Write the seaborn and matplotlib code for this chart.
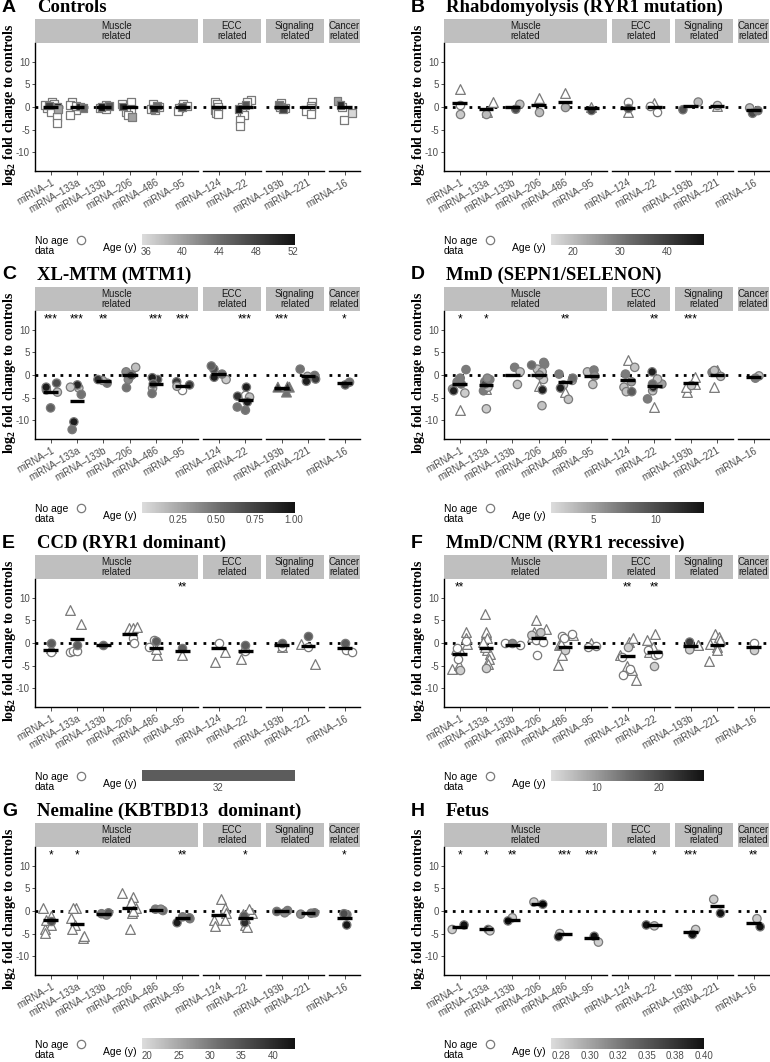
import numpy as np
import pandas as pd
import matplotlib
matplotlib.use("Agg")
import matplotlib.pyplot as plt
import seaborn as sns
from matplotlib.colors import LinearSegmentedColormap, ListedColormap, Normalize
from matplotlib.cm import ScalarMappable
from matplotlib.lines import Line2D

# ---------------- data ----------------
MIRNAS = ["miRNA-1", "miRNA-133a", "miRNA-133b", "miRNA-206", "miRNA-486", "miRNA-95",
          "miRNA-124", "miRNA-22", "miRNA-193b", "miRNA-221", "miRNA-16"]
TICK_LABELS = ["miRNA\u20131", "miRNA\u2013133a", "miRNA\u2013133b", "miRNA\u2013206", "miRNA\u2013486",
               "miRNA\u201395", "miRNA\u2013124", "miRNA\u201322", "miRNA\u2013193b", "miRNA\u2013221",
               "miRNA\u201316"]
GROUPS = ["Muscle\nrelated", "ECC\nrelated", "Signaling\nrelated", "Cancer\nrelated"]
GROUP_SIZES = [6, 2, 2, 1]
Y_TICKS = [-10, -5, 0, 5, 10]
Y_TICK_LABELS = ["-10", "-5", "0", "5", "10"]

# points: (log2 fold change, age or None, marker)
A_points = {
    "miRNA-1": [(1.0, None, "s"), (0.6, None, "s"), (0.3, 48, "s"), (0.0, 52, "s"), (-0.2, None, "s"),
                (-0.5, 40, "s"), (-1.2, None, "s"), (-2.2, None, "s"), (-3.5, None, "s"), (0.4, None, "s")],
    "miRNA-133a": [(1.0, None, "s"), (0.5, None, "s"), (0.1, 50, "s"), (-0.2, 44, "s"), (-0.6, None, "s"),
                   (-1.8, None, "s"), (0.2, None, "s")],
    "miRNA-133b": [(0.5, None, "s"), (0.2, 46, "s"), (0.0, 52, "s"), (-0.3, None, "s"), (-0.4, None, "s")],
    "miRNA-206": [(1.2, None, "s"), (0.6, None, "s"), (0.1, 50, "s"), (-0.4, None, "s"), (-1.0, None, "s"),
                  (-1.8, None, "s"), (-2.2, 40, "s")],
    "miRNA-486": [(0.6, None, "s"), (0.3, 44, "s"), (0.0, None, "s"), (-0.3, 50, "s"), (-0.7, None, "s"),
                  (-0.5, None, "s")],
    "miRNA-95": [(0.6, None, "s"), (0.3, None, "s"), (0.0, 48, "s"), (-0.3, None, "s"), (-0.8, None, "s")],
    "miRNA-124": [(1.2, None, "s"), (0.6, None, "s"), (0.0, None, "s"), (-0.7, None, "s"), (-1.4, None, "s"),
                  (-1.5, None, "s")],
    "miRNA-22": [(1.6, None, "s"), (1.2, None, "s"), (0.5, 46, "s"), (0.0, None, "s"), (-0.5, 52, "s"),
                 (-1.2, None, "s"), (-1.7, None, "s"), (-2.8, None, "s"), (-4.3, None, "s")],
    "miRNA-193b": [(0.8, None, "s"), (0.4, 44, "s"), (0.0, None, "s"), (-0.3, None, "s"), (-0.5, 48, "s")],
    "miRNA-221": [(1.0, None, "s"), (0.2, None, "s"), (-0.2, None, "s"), (-0.8, None, "s"), (-1.6, None, "s")],
    "miRNA-16": [(1.3, 40, "s"), (0.5, 50, "s"), (0.0, None, "s"), (-1.3, 36, "s"), (-2.8, None, "s")],
}
A_median = [0.0, 0.0, 0.0, 0.0, 0.0, -0.1, -0.1, 0.0, 0.0, -0.1, 0.0]
A_stars = [""] * 11

B_points = {
    "miRNA-1": [(3.9, None, "^"), (-1.6, 18, "o"), (0.5, None, "o")],
    "miRNA-133a": [(1.1, None, "^"), (-1.0, None, "^"), (-1.5, 20, "o")],
    "miRNA-133b": [(0.6, 20, "o"), (-0.5, 38, "o")],
    "miRNA-206": [(-1.1, 20, "o"), (1.9, None, "^")],
    "miRNA-486": [(3.0, None, "^"), (-0.1, 22, "o")],
    "miRNA-95": [(0.1, None, "^"), (-0.6, 40, "o")],
    "miRNA-124": [(-1.0, None, "^"), (1.0, None, "o"), (-0.2, 38, "o")],
    "miRNA-22": [(0.9, None, "^"), (-1.1, None, "o"), (0.2, None, "o")],
    "miRNA-193b": [(1.1, 20, "o"), (-0.6, 36, "o")],
    "miRNA-221": [(0.5, 18, "o"), (0.2, None, "^")],
    "miRNA-16": [(-0.2, 20, "o"), (-1.4, 38, "o"), (-0.8, 30, "o")],
}
B_median = [0.9, -0.4, 0.0, 0.5, 1.1, -0.2, -0.15, -0.1, 0.2, 0.15, -0.7]
B_stars = [""] * 11

C_points = {
    "miRNA-1": [(-3.3, 0.1, "o"), (-1.8, 0.7, "o"), (-2.7, 0.95, "o"), (-3.8, 0.15, "o"), (-7.3, 0.6, "o")],
    "miRNA-133a": [(-2.9, 0.1, "o"), (-4.3, 0.5, "o"), (-2.2, 0.9, "o"), (-10.4, 0.95, "o"), (-12.1, 0.5, "o"),
                   (-2.7, 0.1, "o")],
    "miRNA-133b": [(-1.8, 0.5, "o"), (-1.2, 0.2, "o"), (-1.0, 0.85, "o")],
    "miRNA-206": [(1.7, 0.15, "o"), (0.7, 0.4, "o"), (-1.0, 0.4, "o"), (-2.8, 0.5, "o"), (0.0, 0.95, "o"),
                  (-0.1, 0.8, "o")],
    "miRNA-486": [(-1.0, 0.8, "o"), (-0.6, 0.95, "o"), (-2.9, 0.1, "o"), (-4.1, 0.5, "o"), (-2.0, 0.7, "o")],
    "miRNA-95": [(-1.5, 0.8, "o"), (-2.5, 0.15, "o"), (-3.3, None, "o"), (-2.2, 0.8, "o")],
    "miRNA-124": [(-1.0, 0.1, "o"), (1.3, 0.7, "o"), (2.0, 0.6, "o"), (-0.5, 0.95, "o"), (0.2, 0.5, "o")],
    "miRNA-22": [(-4.9, 0.15, "o"), (-4.7, 0.85, "o"), (-2.7, 0.95, "o"), (-7.1, 0.5, "o"), (-7.8, 0.5, "o"),
                 (-4.4, None, "o"), (-6.0, 0.95, "o")],
    "miRNA-193b": [(-2.7, 0.6, "^"), (-2.7, 0.7, "^"), (-3.8, 0.5, "^"), (-2.6, 0.8, "^")],
    "miRNA-221": [(-0.1, 0.5, "o"), (1.3, 0.5, "o"), (-0.3, 0.2, "o"), (-0.9, 0.8, "o"), (-1.4, 0.95, "o")],
    "miRNA-16": [(-1.6, 0.5, "o"), (-2.2, 0.8, "o")],
}
C_median = [-3.7, -5.8, -1.4, 0.0, -2.0, -2.5, 0.2, -5.6, -2.8, -0.2, -1.8]
C_stars = ["***", "***", "**", "", "***", "***", "", "***", "***", "", "*"]

D_points = {
    "miRNA-1": [(1.2, 7, "o"), (-1.5, 7, "o"), (-4.0, 2.5, "o"), (-3.1, 5, "o"), (-3.5, 13, "o"), (-2.0, 8, "o"),
                (-0.7, 7, "o"), (-7.7, None, "^")],
    "miRNA-133a": [(-1.5, 7, "o"), (-3.5, 7, "o"), (-2.7, 3, "o"), (-2.0, 10, "o"), (-1.0, 7, "o"),
                   (-7.5, 2.5, "o"), (-3.1, None, "^"), (-0.7, 6, "o")],
    "miRNA-133b": [(1.7, 7, "o"), (0.7, 3, "o"), (-2.1, 3, "o")],
    "miRNA-206": [(1.3, 3, "o"), (2.4, 7, "o"), (2.8, 7, "o"), (2.2, 8, "o"), (0.7, 3, "o"), (-1.0, 2.5, "o"),
                  (-3.3, 13, "o"), (-6.8, 3, "o"), (-2.4, None, "^"), (0.0, 5, "o")],
    "miRNA-486": [(0.2, 7, "o"), (-1.2, 3, "o"), (-2.2, 3, "o"), (-2.9, 13, "o"), (-5.4, 3, "o"),
                  (-3.8, None, "^"), (-0.7, 8, "o")],
    "miRNA-95": [(0.7, 3, "o"), (1.1, 7, "o"), (-2.1, 3, "o"), (-0.2, 6, "o")],
    "miRNA-124": [(3.4, None, "^"), (1.7, 3, "o"), (0.2, 7, "o"), (-2.7, 3, "o"), (-3.7, 3, "o"), (-3.7, 9, "o"),
                  (-1.5, 5, "o")],
    "miRNA-22": [(-3.5, 3, "o"), (-2.0, 5, "o"), (-2.7, 13, "o"), (0.7, 13, "o"), (-0.9, 3, "o"), (-5.3, 7, "o"),
                 (-7.1, None, "^"), (-2.0, 8, "o")],
    "miRNA-193b": [(-2.0, None, "^"), (-0.5, None, "^"), (-3.8, None, "^"), (-2.7, None, "^"), (-2.3, 3, "o")],
    "miRNA-221": [(-0.3, 3, "o"), (0.6, 7, "o"), (1.0, 3, "o"), (1.0, None, "^"), (-2.7, None, "^")],
    "miRNA-16": [(-0.2, 3, "o"), (-0.7, 7, "o")],
}
D_median = [-2.0, -2.2, 0.1, 0.1, -1.5, -0.2, -1.0, -2.4, -1.8, -0.1, -0.5]
D_stars = ["*", "*", "", "", "**", "", "", "**", "***", "", ""]

E_points = {
    "miRNA-1": [(-1.1, None, "^"), (-2.1, None, "o"), (0.0, 32, "o")],
    "miRNA-133a": [(7.3, None, "^"), (4.3, None, "^"), (-0.5, 32, "o"), (-2.0, None, "o"), (-1.7, None, "o"),
                   (-1.8, None, "o")],
    "miRNA-133b": [(-0.5, 32, "o")],
    "miRNA-206": [(3.3, None, "^"), (3.4, None, "^"), (3.5, None, "^"), (1.0, None, "o"), (-0.1, None, "o")],
    "miRNA-486": [(0.7, None, "o"), (-0.9, None, "o"), (0.4, 32, "o"), (-2.6, None, "^"), (-1.3, None, "^")],
    "miRNA-95": [(-2.7, None, "^"), (-1.1, 32, "o")],
    "miRNA-124": [(-4.2, None, "^"), (-2.0, None, "^"), (0.0, None, "o")],
    "miRNA-22": [(-0.4, 32, "o"), (-3.5, None, "^"), (-1.8, None, "o"), (-1.2, None, "^")],
    "miRNA-193b": [(0.1, 32, "o"), (-0.9, None, "o"), (-0.9, None, "^")],
    "miRNA-221": [(1.6, 32, "o"), (-0.9, None, "o"), (-4.7, None, "^"), (-0.2, None, "^")],
    "miRNA-16": [(0.0, 32, "o"), (-1.6, None, "o"), (-2.1, None, "o")],
}
E_median = [-1.5, 0.8, -0.4, 2.0, -1.1, -1.8, -1.0, -1.7, -0.5, -0.7, -1.2]
E_stars = ["", "", "", "", "", "**", "", "", "", "", ""]

F_points = {
    "miRNA-1": [(2.4, None, "^"), (-0.2, None, "^"), (1.0, None, "^"), (-1.6, None, "^"), (-1.3, None, "^"),
                (-5.7, None, "^"), (-4.9, None, "^"), (-3.5, None, "o"), (-6.0, 4, "o"), (0.4, None, "o"),
                (-1.0, None, "o")],
    "miRNA-133a": [(6.5, None, "^"), (2.0, None, "^"), (2.4, None, "^"), (1.0, None, "^"), (-1.6, None, "^"),
                   (-2.4, None, "^"), (-3.5, None, "^"), (-4.6, None, "^"), (-0.9, None, "^"), (0.2, None, "^"),
                   (-5.6, 4, "o")],
    "miRNA-133b": [(-0.5, None, "o"), (-0.1, 12, "o"), (0.0, None, "o")],
    "miRNA-206": [(3.2, None, "^"), (5.0, None, "^"), (2.4, None, "^"), (1.3, None, "^"), (2.3, 5, "o"),
                  (1.7, 4, "o"), (0.6, None, "o"), (-2.7, None, "o"), (0.2, None, "o")],
    "miRNA-486": [(1.9, None, "o"), (1.6, None, "o"), (1.0, None, "o"), (-1.6, 4, "o"), (1.7, None, "^"),
                  (-0.5, None, "^"), (-2.7, None, "^"), (-4.8, None, "^"), (-0.2, None, "^")],
    "miRNA-95": [(0.1, None, "^"), (-0.9, None, "o"), (-0.7, None, "o")],
    "miRNA-124": [(0.2, None, "^"), (1.1, None, "^"), (-2.7, None, "^"), (-5.0, None, "^"), (-6.0, None, "^"),
                  (-8.2, None, "^"), (-0.9, 4, "o"), (-5.7, None, "o"), (-7.2, None, "o"), (-3.1, None, "o")],
    "miRNA-22": [(2.0, None, "^"), (0.6, None, "^"), (-0.9, None, "^"), (-2.0, None, "^"), (-5.0, 4, "o"),
                 (-2.7, None, "o"), (-1.6, None, "o"), (-2.4, None, "o")],
    "miRNA-193b": [(-1.5, 4, "o"), (0.2, 22, "o"), (-0.4, None, "^"), (-0.5, None, "^")],
    "miRNA-221": [(2.0, None, "^"), (1.3, None, "^"), (0.6, None, "^"), (-0.9, None, "^"), (-1.6, None, "^"),
                  (-4.1, None, "^"), (-0.2, None, "^")],
    "miRNA-16": [(-1.5, 4, "o"), (-0.1, None, "o")],
}
F_median = [-2.4, -1.1, -0.4, 1.1, -0.8, -0.8, -2.9, -2.0, -0.7, -0.5, -0.8]
F_stars = ["**", "", "", "", "", "", "**", "**", "", "", ""]

G_points = {
    "miRNA-1": [(0.7, None, "^"), (-1.1, None, "^"), (-3.0, None, "^"), (-4.1, None, "^"), (-4.8, None, "^"),
                (-2.1, None, "^"), (-2.2, 35, "o")],
    "miRNA-133a": [(0.7, None, "^"), (0.7, None, "^"), (-1.5, None, "^"), (-3.0, None, "^"), (-4.1, None, "^"),
                   (-5.9, None, "^"), (-5.6, None, "^")],
    "miRNA-133b": [(-0.6, 30, "o"), (-0.9, 28, "o"), (-0.4, 34, "o")],
    "miRNA-206": [(4.1, None, "^"), (3.1, None, "^"), (2.1, None, "^"), (0.7, None, "^"), (-0.4, None, "^"),
                  (-4.1, None, "^"), (0.0, None, "^")],
    "miRNA-486": [(0.4, 30, "o"), (0.1, 32, "o"), (0.4, 28, "o")],
    "miRNA-95": [(-1.7, 34, "o"), (-2.6, 42, "o"), (-1.3, 30, "o"), (-1.5, 32, "o")],
    "miRNA-124": [(2.6, None, "^"), (0.7, None, "^"), (-0.4, None, "^"), (-2.1, None, "^"), (-3.3, None, "^"),
                  (-1.9, None, "^")],
    "miRNA-22": [(-0.4, None, "^"), (0.5, None, "^"), (-0.7, None, "^"), (-3.0, None, "^"), (-3.5, None, "^"),
                 (-1.5, None, "^"), (-2.6, 40, "o"), (-1.1, 34, "o")],
    "miRNA-193b": [(0.1, 30, "o"), (-0.1, 32, "o"), (-0.4, 28, "o")],
    "miRNA-221": [(-0.5, 30, "o"), (-0.4, 32, "o"), (-0.7, 28, "o")],
    "miRNA-16": [(-0.7, None, "o"), (-0.8, 32, "o"), (-3.1, 43, "o"), (-0.6, 36, "o")],
}
G_median = [-2.1, -2.8, -0.6, 0.6, 0.3, -1.5, -0.8, -1.6, 0.0, -0.5, -1.5]
G_stars = ["*", "*", "", "", "", "**", "", "*", "", "", "*"]

H_points = {
    "miRNA-1": [(-3.1, 0.40, "o"), (-4.1, 0.275, "o")],
    "miRNA-133a": [(-4.1, 0.40, "o"), (-4.4, 0.275, "o")],
    "miRNA-133b": [(-1.5, 0.275, "o"), (-2.2, 0.40, "o")],
    "miRNA-206": [(2.0, 0.275, "o"), (1.5, 0.40, "o")],
    "miRNA-486": [(-5.0, 0.275, "o"), (-5.7, 0.40, "o")],
    "miRNA-95": [(-5.6, 0.40, "o"), (-6.9, 0.275, "o")],
    "miRNA-124": [],
    "miRNA-22": [(-3.1, 0.40, "o"), (-3.3, 0.275, "o")],
    "miRNA-193b": [(-4.1, 0.275, "o"), (-5.2, 0.40, "o")],
    "miRNA-221": [(-0.5, 0.40, "o"), (2.6, 0.275, "o")],
    "miRNA-16": [(-3.5, 0.40, "o"), (-1.7, 0.275, "o")],
}
H_median = [-3.5, -4.1, -1.9, 1.6, -5.2, -6.1, np.nan, -3.2, -4.6, 1.1, -2.7]
H_stars = ["*", "*", "**", "", "***", "***", "", "*", "***", "", "**"]

# age colour-bar ranges and ticks
A_age = (35.6, 52.2, [36, 40, 44, 48, 52], ["36", "40", "44", "48", "52"])
B_age = (15.3, 47.7, [20, 30, 40], ["20", "30", "40"])
C_age = (0.02, 1.01, [0.25, 0.5, 0.75, 1.0], ["0.25", "0.50", "0.75", "1.00"])
D_age = (1.6, 13.9, [5, 10], ["5", "10"])
E_age = (31.0, 33.0, [32], ["32"])
F_age = (2.5, 27.4, [10, 20], ["10", "20"])
G_age = (19.2, 43.5, [20, 25, 30, 35, 40], ["20", "25", "30", "35", "40"])
H_age = (0.266, 0.40, [0.275, 0.3, 0.325, 0.35, 0.375, 0.4], ["0.28", "0.30", "0.32", "0.35", "0.38", "0.40"])

# ---------------- style ----------------
sns.set_theme(style="white")
plt.rcParams["font.family"] = ["Liberation Sans", "DejaVu Sans"]
plt.rcParams["mathtext.default"] = "regular"

GRAD = LinearSegmentedColormap.from_list("age", [(0, "#dcdcdc"), (0.5, "#6e6e6e"), (1, "#121212")])
FLAT = ListedColormap(["#5c5c5c"])
EDGE = "#7a7a7a"
STRIP = "#bfbfbf"
TXT = "#4d4d4d"

W, H = 770, 1062
fig = plt.figure(figsize=(W / 100, H / 100), dpi=100)


def ax_px(x, y, w, h):
    return fig.add_axes([x / W, 1 - (y + h) / H, w / W, h / H])


def ftext(x, y, s, **kw):
    return fig.text(x / W, 1 - y / H, s, **kw)


UNIT = 26.3
GAP = 5
SIZES = {"o": 6.0, "^": 7.0, "s": 5.5}


def to_frame(points):
    rows = []
    for m, pts in points.items():
        for v, a, mk in pts:
            rows.append({"mirna": m, "value": v, "age": a, "marker": mk})
    df = pd.DataFrame(rows, columns=["mirna", "value", "age", "marker"])
    df["age"] = pd.to_numeric(df["age"])
    return df


def draw_panel(col, row, letter, title, points, medians, stars, age, cmap):
    left = [35, 444][col]
    base = row * 268
    top = 19 + base
    vmin, vmax, cticks, clabels = age
    norm = Normalize(vmin, vmax)
    df = to_frame(points)

    ftext(left - 33, top - 12, letter, fontsize=14, fontweight="bold", ha="left", va="center",
          color="black")
    ftext(left + 2, top - 12, title, fontsize=13.5, fontweight="bold", family="Liberation Serif",
          ha="left", va="center", color="black")
    ftext(left - 34, top + 86, "log$_2$ fold change to controls", rotation=90, fontsize=10,
          fontweight="bold", family="Liberation Serif", ha="left", va="center", color="black")

    x0 = left
    start = 0
    np.random.seed(3 + row * 2 + col)
    for gi, (gname, n) in enumerate(zip(GROUPS, GROUP_SIZES)):
        w = (n + 0.2) * UNIT
        mir = MIRNAS[start:start + n]
        sax = ax_px(x0, top, w, 24)
        sax.set_facecolor(STRIP)
        sax.set_xticks([])
        sax.set_yticks([])
        for s in sax.spines.values():
            s.set_visible(False)
        sax.text(0.5, 0.5, gname, ha="center", va="center", fontsize=7, color="#1a1a1a",
                 linespacing=1.0, transform=sax.transAxes)

        ax = ax_px(x0, top + 24, w, 128)
        ax.set_facecolor("white")
        ax.axhline(0, color="black", lw=2, ls=(0, (1, 2)), zorder=1)
        sub = df[df["mirna"].isin(mir)]
        for mk in ["s", "^", "o"]:
            sm = sub[sub["marker"] == mk]
            noage = sm[sm["age"].isna()]
            aged = sm[sm["age"].notna()]
            if len(noage):
                sns.stripplot(data=noage, x="mirna", y="value", order=mir, color="white", marker=mk,
                              size=SIZES[mk], linewidth=0.9, edgecolor=EDGE, jitter=0.3, ax=ax, zorder=3)
            if len(aged):
                sns.stripplot(data=aged, x="mirna", y="value", hue="age", order=mir, palette=cmap,
                              hue_norm=norm, marker=mk, size=SIZES[mk], linewidth=0.9, edgecolor=EDGE,
                              jitter=0.3, ax=ax, zorder=4, legend=False)
        for i in range(n):
            med = medians[start + i]
            if not np.isnan(med):
                ax.hlines(med, i - 0.28, i + 0.28, color="black", lw=2.4, zorder=6)
            if stars[start + i]:
                ax.text(i, 12.4, stars[start + i], ha="center", va="center", fontsize=8.5, color="black")
        ax.set_xlim(-0.6, n - 0.4)
        ax.set_ylim(-14.2, 14.2)
        ax.set_xticks(range(n))
        ax.set_xticklabels(TICK_LABELS[start:start + n], rotation=30, ha="right", rotation_mode="anchor",
                           fontsize=7, color=TXT)
        ax.set_xlabel("")
        ax.set_ylabel("")
        for s in ["top", "right"]:
            ax.spines[s].set_visible(False)
        ax.spines["bottom"].set_color("black")
        ax.spines["bottom"].set_linewidth(1.0)
        ax.tick_params(axis="x", bottom=True, length=3, width=0.6, color="#333333", pad=1.5)
        if gi == 0:
            ax.spines["left"].set_color("black")
            ax.spines["left"].set_linewidth(1.0)
            ax.set_yticks(Y_TICKS)
            ax.set_yticklabels(Y_TICK_LABELS, fontsize=7, color=TXT)
            ax.tick_params(axis="y", left=True, length=2.5, width=0.6, color="#333333", pad=1.2)
        else:
            ax.spines["left"].set_visible(False)
            ax.set_yticks([])
        ax.grid(False)
        x0 += w + GAP
        start += n

    # legend
    ftext(left, base + 246, "No age\ndata", fontsize=7.5, ha="left", va="center", linespacing=1.05,
          color="black")
    fig.add_artist(Line2D([(left + 46) / W], [1 - (base + 240) / H], marker="o", markersize=6,
                          markerfacecolor="white", markeredgecolor=EDGE, markeredgewidth=0.9,
                          linestyle="none", transform=fig.transFigure))
    ftext(left + 68, base + 248, "Age (y)", fontsize=7.5, ha="left", va="center", color="black")
    cax = ax_px(left + 107, base + 234, 153, 11)
    sm = ScalarMappable(norm=norm, cmap=cmap)
    cb = fig.colorbar(sm, cax=cax, orientation="horizontal")
    cb.outline.set_visible(False)
    cb.set_ticks(cticks)
    cb.set_ticklabels(clabels)
    cax.tick_params(axis="x", which="both", direction="in", length=2.2, width=0.8, color="white",
                    labelsize=7, labelcolor=TXT, top=True, pad=1.5)
    cax.minorticks_off()


panels = [
    (0, 0, "A", "Controls", A_points, A_median, A_stars, A_age, GRAD),
    (1, 0, "B", "Rhabdomyolysis (RYR1 mutation)", B_points, B_median, B_stars, B_age, GRAD),
    (0, 1, "C", "XL-MTM (MTM1)", C_points, C_median, C_stars, C_age, GRAD),
    (1, 1, "D", "MmD (SEPN1/SELENON)", D_points, D_median, D_stars, D_age, GRAD),
    (0, 2, "E", "CCD (RYR1 dominant)", E_points, E_median, E_stars, E_age, FLAT),
    (1, 2, "F", "MmD/CNM (RYR1 recessive)", F_points, F_median, F_stars, F_age, GRAD),
    (0, 3, "G", "Nemaline (KBTBD13  dominant)", G_points, G_median, G_stars, G_age, GRAD),
    (1, 3, "H", "Fetus", H_points, H_median, H_stars, H_age, GRAD),
]
for p in panels:
    draw_panel(*p)

fig.savefig("out.png", dpi=100, facecolor="white")
